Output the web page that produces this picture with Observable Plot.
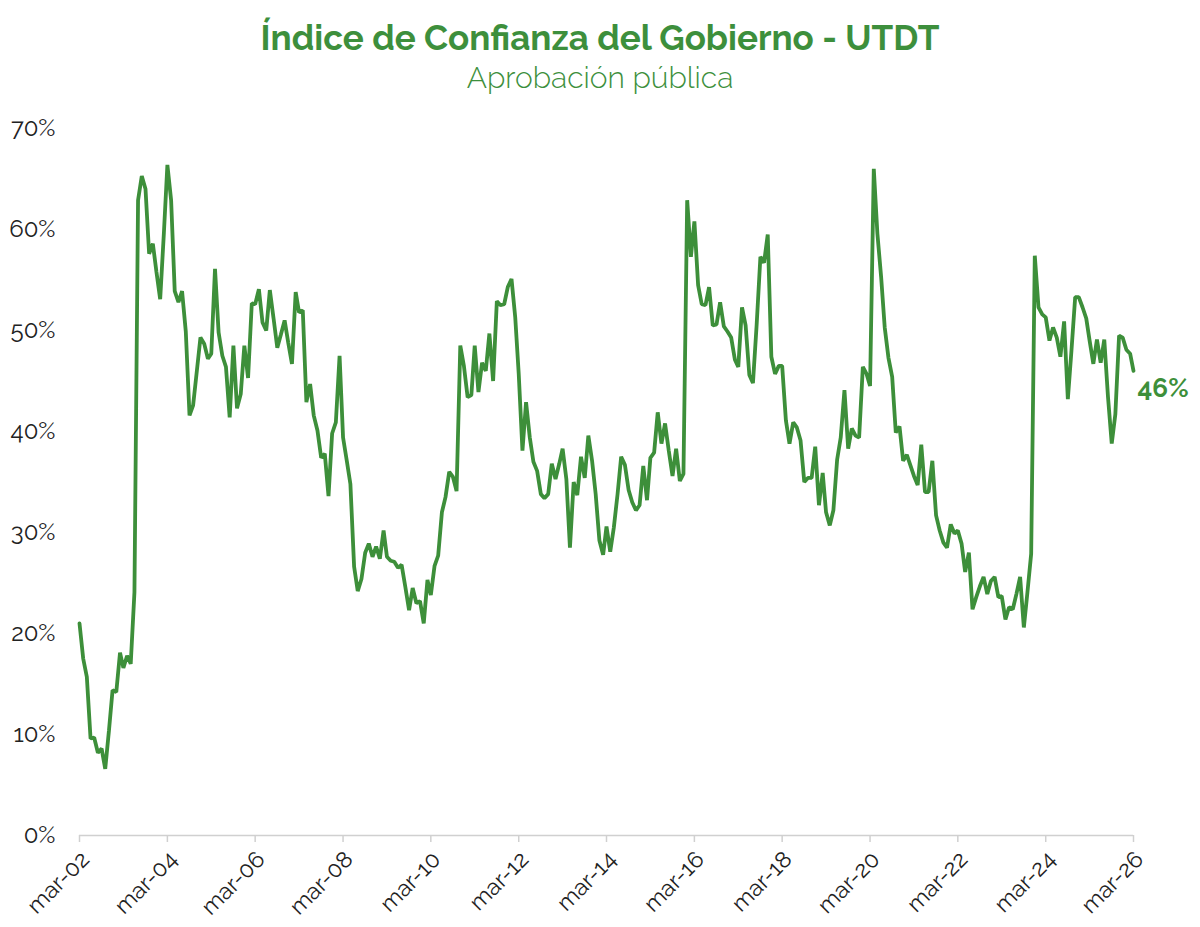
<!DOCTYPE html>
<html>
<head>
<meta charset="utf-8">
<script src="https://cdn.jsdelivr.net/npm/d3@7"></script>
<script src="https://cdn.jsdelivr.net/npm/@observablehq/plot@0.6"></script>
<style>
  html, body { margin: 0; padding: 0; background: #fff; }
  #wrap { position: relative; width: 1200px; height: 927px; overflow: hidden; font-family: Raleway, Lato, sans-serif; }
  #title { position: absolute; left: 0; width: 1200px; top: 16px; text-align: center; font-size: 35px; line-height: 44px; font-weight: 700; color: #3d8f3c; }
  #subtitle { position: absolute; left: 0; width: 1200px; top: 60px; text-align: center; font-size: 30px; line-height: 36px; font-weight: 300; color: #3d8f3c; }
  #chart { position: absolute; left: 0; top: 100px; }
</style>
</head>
<body>
<div id="wrap">
  <div id="title">Índice de Confianza del Gobierno - UTDT</div>
  <div id="subtitle">Aprobación pública</div>
  <div id="chart"></div>
</div>
<script>
// Monthly values (%), starting March 2002, in two-year blocks
const v2002 = [21.0,17.5,15.7,9.6,9.7,8.2,8.6,6.6,10.4,14.4,14.2,18.1,16.6,17.8,17.0,24.1,62.9,65.3,64.0,57.6,58.6,55.8,53.1,59.7];
const v2004 = [66.4,62.9,53.9,52.8,53.9,49.9,41.6,42.6,46.0,49.3,48.7,47.2,47.7,56.1,49.8,47.5,46.4,41.4,48.5,42.3,43.7,48.5,45.3,52.7];
const v2006 = [52.6,54.1,50.8,50.0,54.0,51.2,48.3,49.6,51.0,48.8,46.7,53.8,51.8,52.0,42.9,44.7,41.6,40.1,37.4,37.8,33.6,39.8,40.9,47.5];
const v2008 = [39.4,37.1,34.8,26.6,24.2,25.4,28.0,28.9,27.6,28.6,27.4,30.2,27.6,27.2,27.1,26.5,26.8,24.6,22.3,24.5,23.0,23.2,21.0,25.3];
const v2010 = [23.8,26.7,27.7,32.0,33.5,36.0,35.5,34.1,48.5,46.5,43.4,43.6,48.5,43.9,46.8,46.0,49.7,45.0,52.9,52.5,52.6,54.3,55.1,51.3];
const v2012 = [45.7,38.1,42.9,39.4,37.0,36.1,33.8,33.4,33.8,36.8,35.3,36.8,38.3,35.3,28.5,35.0,33.7,37.5,35.4,39.6,37.1,33.8,29.2,27.8];
const v2014 = [30.6,28.1,30.5,33.8,37.5,36.7,34.2,33.0,32.2,32.7,36.6,33.2,37.4,37.9,41.9,38.8,40.8,38.1,35.6,38.3,35.1,35.8,62.9,57.3];
const v2016 = [60.8,54.5,52.6,52.5,54.3,50.5,50.6,52.8,50.4,49.9,49.3,47.1,46.4,52.3,50.5,45.6,44.8,50.6,57.3,56.7,59.5,47.4,45.7,46.5];
const v2018 = [46.5,41.1,38.8,40.9,40.4,39.1,35.0,35.4,35.4,38.5,32.7,35.9,32.0,30.7,32.2,37.2,39.4,44.1,38.3,40.3,39.6,39.4,46.4,45.7];
const v2020 = [44.5,66.0,59.6,55.3,50.3,47.3,45.4,39.9,40.5,37.1,37.7,36.6,35.6,34.7,38.7,34.0,34.0,37.1,31.7,30.2,29.0,28.5,30.8,29.9];
const v2022 = [30.2,28.9,26.1,28.0,22.4,23.6,24.7,25.6,23.9,25.2,25.6,23.6,23.7,21.4,22.6,22.4,23.9,25.6,20.6,24.1,27.9,57.4,52.3,51.6];
const v2024 = [51.3,49.0,50.3,49.3,47.4,50.9,43.2,48.0,53.3,53.3,52.3,51.2,49.0,46.7,49.1,46.8,49.1,43.4,38.8,41.7,49.5,49.3,48.1,47.7,46.0];

const xTickDates = ["2002-03-01","2004-03-01","2006-03-01","2008-03-01","2010-03-01","2012-03-01","2014-03-01","2016-03-01","2018-03-01","2020-03-01","2022-03-01","2024-03-01","2026-03-01"];
const xTickLabels = ["mar-02","mar-04","mar-06","mar-08","mar-10","mar-12","mar-14","mar-16","mar-18","mar-20","mar-22","mar-24","mar-26"];
const yTicks = [0,10,20,30,40,50,60,70];

const green = "#3d8f3a";
const values = [].concat(v2002, v2004, v2006, v2008, v2010, v2012, v2014, v2016, v2018, v2020, v2022, v2024);
const data = values.map((v, i) => ({ date: new Date(Date.UTC(2002, 2 + i, 1)), value: v }));
const last = data[data.length - 1];
const tickDates = xTickDates.map(s => new Date(s + "T00:00:00Z"));
const labelOf = new Map(tickDates.map((d, i) => [+d, xTickLabels[i]]));

const chart = Plot.plot({
  width: 1200,
  height: 827,
  marginLeft: 79,
  marginRight: 67,
  marginTop: 28,
  marginBottom: 92,
  style: { fontFamily: "Raleway, Lato, sans-serif", background: "white", overflow: "visible", color: "#222" },
  x: { type: "utc", domain: [tickDates[0], tickDates[tickDates.length - 1]] },
  y: { domain: [0, 70] },
  marks: [
    Plot.ruleY([0], { stroke: "#d0d0d0", strokeWidth: 1.5 }),
    Plot.axisX({ ticks: tickDates, tickFormat: () => "", tickSize: 7, stroke: "#d0d0d0", strokeWidth: 1.5, label: null }),
    Plot.axisX({ ticks: tickDates, tickFormat: d => labelOf.get(+d), tickRotate: -45, fontSize: 23, tickSize: 0, tickPadding: 20, dx: 6, fill: "#222", label: null }),
    Plot.axisY({ ticks: yTicks, tickFormat: d => d + "%", tickSize: 0, tickPadding: 24, fontSize: 24, fill: "#222", label: null }),
    Plot.lineY(data, { x: "date", y: "value", stroke: green, strokeWidth: 3.8, strokeLinejoin: "miter" }),
    Plot.text([last], { x: "date", y: "value", text: d => Math.round(d.value) + "%", dx: 4, dy: 18, textAnchor: "start", fontSize: 26, fontWeight: "bold", fill: green })
  ]
});
document.getElementById("chart").appendChild(chart);
</script>
</body>
</html>
